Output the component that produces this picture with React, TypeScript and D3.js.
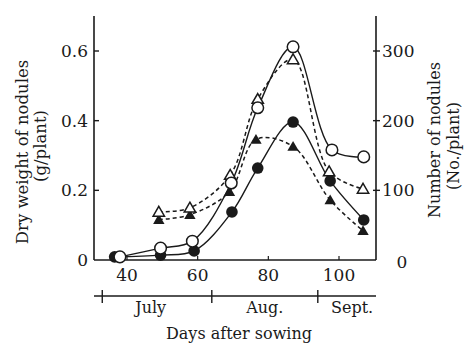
import * as d3 from "d3"

// Days after sowing for each series, and values
const openCircleDays = [38, 49.5, 58.5, 69.5, 77, 87, 98, 107]
const openCircleWeight = [0.009, 0.034, 0.054, 0.221, 0.437, 0.612, 0.316, 0.296]

const filledCircleDays = [36.5, 49.5, 59, 69.7, 77, 87, 97.5, 107]
const filledCircleWeight = [0.009, 0.014, 0.026, 0.138, 0.264, 0.396, 0.227, 0.115]

const openTriangleDays = [49, 57.8, 69.2, 77, 87, 97.2, 106.8]
const openTriangleCount = [69, 75, 122, 231, 288, 127, 102]

const filledTriangleDays = [49, 57.8, 69, 76.5, 87, 97.5, 106.8]
const filledTriangleCount = [58, 65, 98, 173, 163, 86, 42]

const xTicks = [40, 60, 80, 100]
const leftTicks = [0.2, 0.4, 0.6]
const rightTicks = [100, 200, 300]
const monthBounds = [33, 64, 94]
const monthNames = ["July", "Aug.", "Sept."]
const monthLabelDays = [46.7, 79, 103.7]

const W = 465
const H = 344
const left = 94
const right = 376
const top = 16
const bottom = 260
const monthY = 296
const ink = "#1a1a1a"
const font = "'DejaVu Serif', serif"

const x = d3.scaleLinear().domain([40, 100]).range([127, 339])
const yL = d3.scaleLinear().domain([0, 0.6]).range([bottom, 51])
const yR = d3.scaleLinear().domain([0, 300]).range([bottom, 51])

const curve = d3.curveCatmullRom.alpha(0.5)

function makePts(days: number[], vals: number[], y: d3.ScaleLinear<number, number>) {
  return days.map((d, i) => [x(d), y(vals[i])] as [number, number])
}

const line = d3.line<[number, number]>().x(d => d[0]).y(d => d[1]).curve(curve)

const tri = d3.symbol().type(d3.symbolTriangle).size(56)

export default function App() {
  const oc = makePts(openCircleDays, openCircleWeight, yL)
  const fc = makePts(filledCircleDays, filledCircleWeight, yL)
  const ot = makePts(openTriangleDays, openTriangleCount, yR)
  const ft = makePts(filledTriangleDays, filledTriangleCount, yR)

  return (
    <svg width={W} height={H} style={{ position: "absolute", left: 0, top: 0, background: "#fff" }}
      fontFamily={font} fill={ink}>
      {/* frame */}
      <line x1={left} x2={left} y1={top} y2={bottom} stroke={ink} strokeWidth={1.6} />
      <line x1={right} x2={right} y1={top} y2={bottom} stroke={ink} strokeWidth={1.6} />
      <line x1={left} x2={right} y1={bottom} y2={bottom} stroke={ink} strokeWidth={1.6} />

      {/* left ticks */}
      {leftTicks.map(t => (
        <g key={"l" + t}>
          <line x1={left} x2={left + 5} y1={yL(t)} y2={yL(t)} stroke={ink} strokeWidth={1.4} />
          <text x={88} y={yL(t)} dy="0.36em" textAnchor="end" fontSize={17}>{t.toFixed(1)}</text>
        </g>
      ))}
      <text x={88} y={yL(0)} dy="0.36em" textAnchor="end" fontSize={17}>0</text>

      {/* right ticks */}
      {rightTicks.map(t => (
        <g key={"r" + t}>
          <line x1={right - 3} x2={right + 4} y1={yR(t)} y2={yR(t)} stroke={ink} strokeWidth={1.4} />
          <text x={382} y={yR(t)} dy="0.36em" textAnchor="start" fontSize={17}>{t}</text>
        </g>
      ))}
      <text x={402} y={yR(0) + 2} dy="0.36em" textAnchor="middle" fontSize={17}>0</text>

      {/* bottom ticks */}
      {xTicks.map(t => (
        <g key={"x" + t}>
          <line x1={x(t)} x2={x(t)} y1={bottom} y2={bottom - 4} stroke={ink} strokeWidth={1.2} />
          <text x={x(t)} y={281} textAnchor="middle" fontSize={17}>{t}</text>
        </g>
      ))}

      {/* month axis */}
      <line x1={left} x2={right} y1={monthY} y2={monthY} stroke={ink} strokeWidth={1.6} />
      {monthBounds.map(m => (
        <line key={"m" + m} x1={x(m)} x2={x(m)} y1={monthY - 6} y2={monthY + 7} stroke={ink} strokeWidth={1.4} />
      ))}
      {monthNames.map((n, i) => (
        <text key={n} x={x(monthLabelDays[i])} y={313} textAnchor="middle" fontSize={16}>{n}</text>
      ))}
      <text x={239} y={339} textAnchor="middle" fontSize={16}>Days after sowing</text>

      {/* axis titles */}
      <text transform="translate(28,152) rotate(-90)" textAnchor="middle" fontSize={16.5}>Dry weight of nodules</text>
      <text transform="translate(46,146) rotate(-90)" textAnchor="middle" fontSize={16.5}>(g/plant)</text>
      <text transform="translate(440,140) rotate(-90)" textAnchor="middle" fontSize={16}>Number of nodules</text>
      <text transform="translate(459,146) rotate(-90)" textAnchor="middle" fontSize={16}>(No./plant)</text>

      {/* lines */}
      <path d={line(ft) ?? ""} fill="none" stroke={ink} strokeWidth={1.5} strokeDasharray="4,3" />
      <path d={line(ot) ?? ""} fill="none" stroke={ink} strokeWidth={1.5} strokeDasharray="4,3" />
      <path d={line(fc) ?? ""} fill="none" stroke={ink} strokeWidth={1.4} />
      <path d={line(oc) ?? ""} fill="none" stroke={ink} strokeWidth={1.4} />

      {/* markers */}
      {ft.map((p, i) => (
        <path key={"ft" + i} d={tri() ?? ""} transform={`translate(${p[0]},${p[1] + 1})`} fill={ink} />
      ))}
      {ot.map((p, i) => (
        <path key={"ot" + i} d={tri() ?? ""} transform={`translate(${p[0]},${p[1] + 1})`} fill="#fff" stroke={ink} strokeWidth={1.5} />
      ))}
      {fc.map((p, i) => (
        <circle key={"fc" + i} cx={p[0]} cy={p[1]} r={5.8} fill={ink} />
      ))}
      {oc.map((p, i) => (
        <circle key={"oc" + i} cx={p[0]} cy={p[1]} r={5.8} fill="#fff" stroke={ink} strokeWidth={1.5} />
      ))}
    </svg>
  )
}
